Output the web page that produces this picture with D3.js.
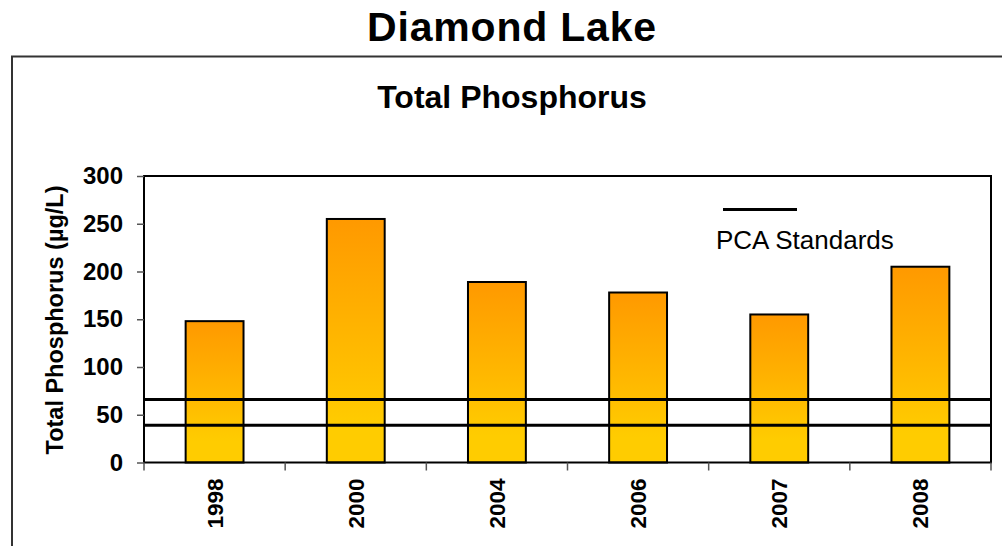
<!DOCTYPE html>
<html><head><meta charset="utf-8">
<script src="https://cdn.jsdelivr.net/npm/d3@7"></script>
<style>body{margin:0;background:#fff}svg{display:block;font-family:"Liberation Sans",Arial,sans-serif}</style>
</head><body><svg id="c" width="1002" height="546"></svg>
<script>
const years = ["1998","2000","2004","2006","2007","2008"];
const phosphorus = [148, 255, 189, 178, 155, 205];
const standards = [66, 39];
const yTicks = [0,50,100,150,200,250,300];
const chartTitle = "Diamond Lake";
const plotTitle = "Total Phosphorus";
const yLabel = "Total Phosphorus (µg/L)";
const legendLabel = "PCA Standards";

const svg = d3.select("#c");
const m = {l:144, r:991, t:176, b:462.5};
const x = d3.scaleBand().domain(years).range([m.l, m.r]).paddingInner(0.59).paddingOuter(0.295);
const xb = d3.scaleBand().domain(years).range([m.l, m.r]);
const y = d3.scaleLinear().domain([0,300]).range([m.b, m.t]);

const defs = svg.append("defs");
const g = defs.append("linearGradient").attr("id","grad").attr("x1",0).attr("y1",0).attr("x2",0).attr("y2",1);
g.append("stop").attr("offset","0%").attr("stop-color","#FF9900");
g.append("stop").attr("offset","85%").attr("stop-color","#FFCC00");
g.append("stop").attr("offset","100%").attr("stop-color","#FFCC00");

// outer frame
svg.append("rect").attr("x",12).attr("y",56.5).attr("width",1100).attr("height",600)
  .attr("fill","none").attr("stroke","#333").attr("stroke-width",2);

svg.append("text").attr("x",512).attr("y",41).attr("text-anchor","middle")
  .attr("font-size",41).attr("font-weight","bold").attr("letter-spacing",0.8).text(chartTitle);
svg.append("text").attr("x",512).attr("y",108).attr("text-anchor","middle")
  .attr("font-size",32).attr("font-weight","bold").text(plotTitle);

// bars
svg.selectAll("rect.bar").data(years).enter().append("rect").attr("class","bar")
  .attr("x", d=>x(d)).attr("width", x.bandwidth())
  .attr("y", (d,i)=>y(phosphorus[i])).attr("height",(d,i)=>y(0)-y(phosphorus[i]))
  .attr("fill","url(#grad)").attr("stroke","#000").attr("stroke-width",2);

// standard lines
svg.selectAll("line.std").data(standards).enter().append("line")
  .attr("x1",m.l).attr("x2",m.r).attr("y1",d=>y(d)).attr("y2",d=>y(d))
  .attr("stroke","#000").attr("stroke-width",3);

// plot border
svg.append("rect").attr("x",m.l).attr("y",m.t).attr("width",m.r-m.l).attr("height",m.b-m.t)
  .attr("fill","none").attr("stroke","#000").attr("stroke-width",2);

// y axis
const ya = svg.append("g").attr("transform",`translate(${m.l},0)`)
  .call(d3.axisLeft(y).tickValues(yTicks).tickSize(7).tickPadding(14).tickFormat(d3.format("d")));
ya.select(".domain").remove();
ya.selectAll(".tick line").attr("stroke","#555").attr("stroke-width",1.5);
ya.selectAll(".tick text").attr("font-size",24).attr("font-weight","bold").attr("fill","#000")
  .attr("font-family","Liberation Sans, Arial, sans-serif");

// x axis ticks at band boundaries
const xa = svg.append("g").attr("transform",`translate(0,${m.b})`)
  .call(d3.axisBottom(xb).tickSize(0).tickFormat(""));
xa.select(".domain").remove();
const bounds = years.map(d=>xb(d)).concat([m.r]);
svg.append("g").selectAll("line").data(bounds).enter().append("line")
  .attr("x1",d=>d).attr("x2",d=>d).attr("y1",m.b).attr("y2",m.b+8)
  .attr("stroke","#555").attr("stroke-width",1.5);
xa.selectAll(".tick").append("text")
  .attr("transform","translate(8,16) rotate(-90)")
  .attr("text-anchor","end").attr("fill","#000")
  .attr("font-size",22.5).attr("font-weight","bold")
  .attr("font-family","Liberation Sans, Arial, sans-serif")
  .text(d=>d);

// y label
svg.append("text").attr("transform","translate(63,320) rotate(-90)").attr("text-anchor","middle")
  .attr("font-size",23.5).attr("font-weight","bold").text(yLabel);

// legend
svg.append("line").attr("x1",723).attr("x2",797).attr("y1",209.5).attr("y2",209.5)
  .attr("stroke","#000").attr("stroke-width",3);
svg.append("text").attr("x",716).attr("y",249).attr("font-size",26).text(legendLabel);
</script></body></html>
